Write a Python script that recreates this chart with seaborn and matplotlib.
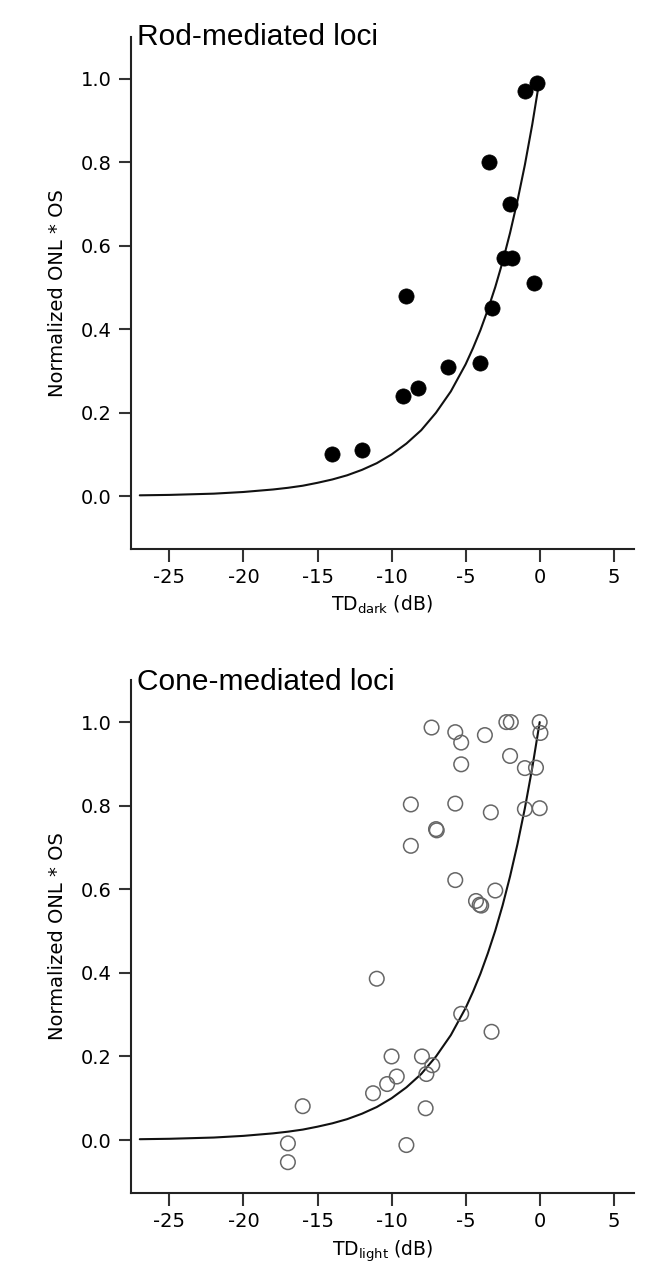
import numpy as np
import pandas as pd
import matplotlib.pyplot as plt
import seaborn as sns

# Rod-mediated loci (filled circles)
rod_td = [-14.0, -12.0, -9.2, -8.2, -9.0, -6.2, -4.0, -3.2, -3.4, -2.0, -2.4, -1.9, -0.4, -1.0, -0.2]
rod_onl = [0.10, 0.11, 0.24, 0.26, 0.48, 0.31, 0.32, 0.45, 0.80, 0.70, 0.57, 0.57, 0.51, 0.97, 0.99]

# Cone-mediated loci (open circles)
cone_td = [-7.3, -5.7, -5.3, -3.7, -2.25, -1.95, 0.0, 0.05, -2.0, -5.3, -1.0, -0.25,
           -8.7, -5.7, -3.3, -1.0, 0.0, -7.0, -6.95, -8.7, -5.7, -3.0, -4.3, -4.05, -3.95,
           -11.0, -5.3, -3.25, -10.0, -7.95, -7.25, -7.65, -9.65, -10.3, -11.25, -16.0,
           -7.7, -17.0, -17.0, -9.0]
cone_onl = [0.987, 0.976, 0.951, 0.969, 1.0, 1.0, 1.0, 0.974, 0.919, 0.899, 0.89, 0.891,
            0.803, 0.805, 0.784, 0.792, 0.794, 0.744, 0.741, 0.704, 0.622, 0.597, 0.572, 0.563, 0.561,
            0.386, 0.302, 0.259, 0.2, 0.2, 0.179, 0.158, 0.152, 0.134, 0.112, 0.081,
            0.076, -0.008, -0.053, -0.012]

# model curve
curve_td = [-27, -26, -25, -24, -23, -22, -21, -20, -19, -18, -17, -16, -15, -14, -13, -12,
            -11, -10, -9, -8, -7, -6, -5, -4.5, -4, -3.5, -3, -2.5, -2, -1.5, -1, -0.5, 0]
curve_onl = [0.002, 0.0025, 0.003, 0.004, 0.005, 0.006, 0.008, 0.010, 0.013, 0.016, 0.020,
             0.025, 0.032, 0.040, 0.050, 0.063, 0.079, 0.100, 0.126, 0.158, 0.200, 0.251,
             0.316, 0.355, 0.398, 0.447, 0.501, 0.562, 0.631, 0.708, 0.794, 0.891, 1.000]

x_ticks = [-25, -20, -15, -10, -5, 0, 5]
y_ticks = [0.0, 0.2, 0.4, 0.6, 0.8, 1.0]

sns.set_style("ticks")
plt.rcParams['font.family'] = ['DejaVu Sans']
plt.rcParams['mathtext.fontset'] = 'dejavusans'
plt.rcParams['axes.unicode_minus'] = False
plt.rcParams['text.color'] = 'black'
plt.rcParams['axes.labelcolor'] = 'black'
plt.rcParams['xtick.color'] = 'black'
plt.rcParams['ytick.color'] = 'black'

rod = pd.DataFrame({'td': rod_td, 'onl': rod_onl})
cone = pd.DataFrame({'td': cone_td, 'onl': cone_onl})
curve = pd.DataFrame({'td': curve_td, 'onl': curve_onl})

fig = plt.figure(figsize=(6.48, 12.8), dpi=100)
ax1 = fig.add_axes([0.202, 0.5713, 0.776, 0.3997])
ax2 = fig.add_axes([0.202, 0.0682, 0.776, 0.4003])


def style_axis(ax, xlabel):
    ax.set_xlim(-27.6, 6.35)
    ax.set_ylim(-0.126, 1.10)
    ax.set_xticks(x_ticks)
    ax.set_yticks(y_ticks)
    ax.set_yticklabels([f"{v:.1f}" for v in y_ticks])
    sns.despine(ax=ax)
    for s in ['left', 'bottom']:
        ax.spines[s].set_linewidth(1.5)
        ax.spines[s].set_color('#222222')
    ax.tick_params(direction='out', length=9, width=1.5, color='#333333',
                   labelsize=14, pad=5, labelcolor='black')
    ax.set_xlabel(xlabel, fontsize=13.5, labelpad=5)
    ax.set_ylabel('Normalized ONL * OS', fontsize=14, labelpad=10)


sns.lineplot(data=curve, x='td', y='onl', ax=ax1, color='#111111', linewidth=1.5)
sns.scatterplot(data=rod, x='td', y='onl', ax=ax1, color='black', s=120,
                edgecolor='black', linewidth=0.5, zorder=3)
style_axis(ax1, r'TD$_{\mathrm{dark}}$ (dB)')

sns.lineplot(data=curve, x='td', y='onl', ax=ax2, color='#111111', linewidth=1.5)
sns.scatterplot(data=cone, x='td', y='onl', ax=ax2, s=110, facecolor='none',
                edgecolor='#666666', linewidth=1.1, zorder=3)
style_axis(ax2, r'TD$_{\mathrm{light}}$ (dB)')

fig.text(0.212, 0.965, 'Rod-mediated loci', fontsize=21.5, family='Liberation Sans',
         color='black', ha='left', va='baseline')
fig.text(0.212, 0.461, 'Cone-mediated loci', fontsize=21.5, family='Liberation Sans',
         color='black', ha='left', va='baseline')

fig.savefig('out.png', dpi=100)
